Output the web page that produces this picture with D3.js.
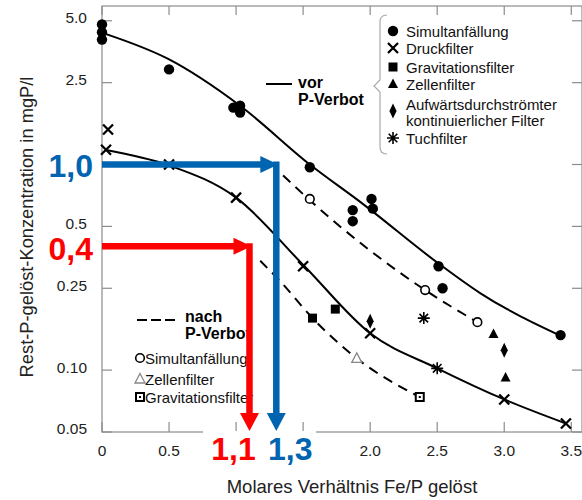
<!DOCTYPE html>
<html>
<head>
<meta charset="utf-8">
<script src="https://cdn.jsdelivr.net/npm/d3@7"></script>
<style>
  body { margin: 0; background: #fff; }
  svg { display: block; font-family: "Liberation Sans", Arial, sans-serif; }
</style>
</head>
<body>
<div id="chart"></div>
<script>
// values (x = molar ratio Fe/P, y = mg P/l)
const xTicks = [0, 0.5, 1.0, 1.5, 2.0, 2.5, 3.0, 3.5];
// 1.0 and 1.5 are covered by the big "1,1" / "1,3" labels in the figure
const xTickLabels = ["0", "0.5", "", "", "2.0", "2.5", "3.0", "3.5"];
const yTicks = [0.05, 0.10, 0.25, 0.5, 1.0, 2.5, 5.0];
// 1.0 is covered by the big "1,0"
const yTickLabels = ["0.05", "0.10", "0.25", "0.5", "", "2.5", "5.0"];

// vor P-Verbot
const simVor = [[0, 4.8], [0, 4.4], [0, 4.05], [0.5, 2.9], [0.98, 1.89], [1.03, 1.93], [1.03, 1.79],
  [1.55, 0.97], [1.87, 0.60], [1.87, 0.53], [2.01, 0.68], [2.02, 0.61], [2.51, 0.32], [2.54, 0.25], [3.42, 0.148]];
const druck = [[0.045, 1.48], [0.03, 1.18], [0.5, 1.0], [1.0, 0.69], [1.5, 0.32], [2.0, 0.151], [3.0, 0.072], [3.46, 0.055]];
const gravVor = [[1.57, 0.179], [1.74, 0.198]];
const zellenVor = [[2.92, 0.15], [3.01, 0.092]];
const aufwaerts = [[2.0, 0.173], [3.0, 0.125]];
const tuch = [[2.4, 0.179], [2.5, 0.102]];

// nach P-Verbot
const simNach = [[1.55, 0.68], [2.41, 0.245], [2.8, 0.171]];
const zellenNach = [[1.9, 0.114]];
const gravNach = [[2.37, 0.074]];

// fitted curves
const curveVorTop = [[0.02, 4.33], [0.49, 3.27], [1.03, 1.93], [1.55, 1.0], [1.95, 0.64], [2.51, 0.33], [2.82, 0.237], [3.43, 0.146]];
const curveVorLow = [[0.02, 1.18], [0.5, 0.99], [1.0, 0.69], [1.51, 0.32], [2.0, 0.151], [2.5, 0.102], [3.0, 0.072], [3.46, 0.055]];
const curveNachTop = [[1.35, 0.885], [1.55, 0.67], [2.41, 0.245], [2.8, 0.171]];
const curveNachLow = [[1.18, 0.34], [1.33, 0.27], [1.57, 0.179], [1.9, 0.114], [2.37, 0.074]];

// highlighted readings
const blueRead = { y: 1.0, x: 1.3 };
const redRead = { y: 0.4, x: 1.1 };

const legendVor = ["Simultanfällung", "Druckfilter", "Gravitationsfilter", "Zellenfilter", "Aufwärtsdurchströmter", "kontinuierlicher Filter", "Tuchfilter"];
const legendNach = ["Simultanfällung", "Zellenfilter", "Gravitationsfilter"];

const width = 582, height = 500;
const BLUE = "#0064b0", RED = "#ff0000", FRAME = "#8c8c8c";

const svg = d3.select("#chart").append("svg")
  .attr("width", width).attr("height", height);

const x = d3.scaleLinear().domain([0, 3.58]).range([102, 582]);
const y = d3.scaleLog().domain([0.05, 5.9]).range([432, 6]);

// frame with inward ticks on all sides
const frame = svg.append("g").attr("stroke", FRAME).attr("stroke-width", 1.2).attr("fill", "none");
frame.append("rect").attr("x", x(0)).attr("y", y(5.9)).attr("width", x(3.58) - x(0)).attr("height", y(0.05) - y(5.9));
xTicks.forEach((t) => {
  frame.append("line").attr("x1", x(t)).attr("x2", x(t)).attr("y1", y(0.05)).attr("y2", y(0.05) - 10);
  frame.append("line").attr("x1", x(t)).attr("x2", x(t)).attr("y1", y(5.9)).attr("y2", y(5.9) + 9);
});
yTicks.forEach((t) => {
  frame.append("line").attr("x1", x(0)).attr("x2", x(0) + 10).attr("y1", y(t)).attr("y2", y(t));
  frame.append("line").attr("x1", x(3.58)).attr("x2", x(3.58) - 10).attr("y1", y(t)).attr("y2", y(t));
});

// tick labels
svg.append("g").selectAll("text").data(xTicks.filter((d, i) => xTickLabels[i])).join("text")
  .attr("x", (d) => x(d)).attr("y", 456)
  .attr("text-anchor", "middle").attr("font-size", 15.5).attr("fill", "#222")
  .text((d) => xTickLabels[xTicks.indexOf(d)]);
svg.append("g").selectAll("text").data(yTicks.filter((d, i) => yTickLabels[i])).join("text")
  .attr("x", 87).attr("y", (d) => y(d) - 3).attr("dy", "0.35em")
  .attr("text-anchor", "end").attr("font-size", 15.5).attr("fill", "#222")
  .text((d) => yTickLabels[yTicks.indexOf(d)]);

// axis titles
svg.append("text").attr("x", 352).attr("y", 493).attr("text-anchor", "middle")
  .attr("font-size", 18.5).attr("fill", "#222").text("Molares Verhältnis Fe/P gelöst");
svg.append("text").attr("transform", "translate(33,227) rotate(-90)").attr("text-anchor", "middle")
  .attr("font-size", 18.3).attr("fill", "#222").text("Rest-P-gelöst-Konzentration in mgP/l");

// curves
const line = d3.line().x((d) => x(d[0])).y((d) => y(d[1])).curve(d3.curveMonotoneX);
const curves = svg.append("g").attr("fill", "none").attr("stroke", "#000").attr("stroke-width", 2);
curves.append("path").attr("d", line(curveVorTop));
curves.append("path").attr("d", line(curveVorLow));
curves.append("path").attr("d", line(curveNachTop)).attr("stroke-dasharray", "10,7");
curves.append("path").attr("d", line(curveNachLow)).attr("stroke-dasharray", "10,7");

// marker shapes
const drawMarker = (g, type, cx, cy) => {
  const m = g.append("g").attr("transform", `translate(${cx},${cy})`);
  if (type === "circle") m.append("circle").attr("r", 5.2).attr("fill", "#000");
  if (type === "x") m.append("path").attr("d", "M-5,-5L5,5M-5,5L5,-5").attr("stroke", "#000").attr("stroke-width", 2.3);
  if (type === "square") m.append("rect").attr("x", -4.5).attr("y", -4.5).attr("width", 9).attr("height", 9).attr("fill", "#000");
  if (type === "triangle") m.append("path").attr("d", "M0,-5.5L5,4L-5,4Z").attr("fill", "#000");
  if (type === "diamond") m.append("path").attr("d", "M0,-7.5L3.6,0L0,7.5L-3.6,0Z").attr("fill", "#000");
  if (type === "star") m.append("path").attr("d", "M0,-6V6M-6,0H6M-4.3,-4.3L4.3,4.3M-4.3,4.3L4.3,-4.3").attr("stroke", "#000").attr("stroke-width", 1.6);
  if (type === "ocircle") m.append("circle").attr("r", 4.3).attr("fill", "#fff").attr("stroke", "#000").attr("stroke-width", 1.6);
  if (type === "otriangle") m.append("path").attr("d", "M0,-5.5L5,4L-5,4Z").attr("fill", "#fff").attr("stroke", "#888").attr("stroke-width", 1.3);
  if (type === "osquare") {
    m.append("rect").attr("x", -4).attr("y", -4).attr("width", 8).attr("height", 8).attr("fill", "#fff").attr("stroke", "#000").attr("stroke-width", 2);
    m.append("rect").attr("x", -1).attr("y", -1).attr("width", 2).attr("height", 2).attr("fill", "#000");
  }
};

const marks = svg.append("g");
const series = [
  [simVor, "circle"], [druck, "x"], [gravVor, "square"], [zellenVor, "triangle"],
  [aufwaerts, "diamond"], [tuch, "star"], [simNach, "ocircle"], [zellenNach, "otriangle"], [gravNach, "osquare"],
];
series.forEach(([data, type]) => data.forEach((d) => drawMarker(marks, type, x(d[0]), y(d[1]))));

// upper legend with bracket
const leg = svg.append("g");
leg.append("path").attr("d", "M387,15 Q380,15 380,22 V80 L374,86 L380,92 V147 Q380,154 387,154")
  .attr("fill", "none").attr("stroke", "#aaa").attr("stroke-width", 1.2);
const legRows = [31, 48, 67, 84, 104, 120, 138];
const legMarks = ["circle", "x", "square", "triangle", "diamond", null, "star"];
legendVor.forEach((t, i) => {
  leg.append("text").attr("x", 406).attr("y", legRows[i] + 5.5).attr("font-size", 15).attr("fill", "#111").text(t);
  if (legMarks[i]) drawMarker(leg, legMarks[i], 393, legMarks[i] === "diamond" ? 111 : legRows[i]);
});

// vor / nach line keys
svg.append("line").attr("x1", 266).attr("x2", 292).attr("y1", 84).attr("y2", 84).attr("stroke", "#000").attr("stroke-width", 2);
svg.append("text").attr("x", 298).attr("y", 88).attr("font-size", 16).attr("font-weight", "bold").text("vor");
svg.append("text").attr("x", 298).attr("y", 105).attr("font-size", 16).attr("font-weight", "bold").text("P-Verbot");
svg.append("line").attr("x1", 137).attr("x2", 175).attr("y1", 320).attr("y2", 320)
  .attr("stroke", "#000").attr("stroke-width", 2).attr("stroke-dasharray", "10,4");
svg.append("text").attr("x", 185).attr("y", 322).attr("font-size", 16).attr("font-weight", "bold").text("nach");
svg.append("text").attr("x", 185).attr("y", 339).attr("font-size", 16).attr("font-weight", "bold").text("P-Verbot");
const nachRows = [358, 379, 397];
const nachMarks = ["ocircle", "otriangle", "osquare"];
legendNach.forEach((t, i) => {
  svg.append("text").attr("x", 145).attr("y", nachRows[i] + 5.5).attr("font-size", 15).attr("fill", "#111").text(t);
  drawMarker(svg, nachMarks[i], 140, nachRows[i]);
});

// reading arrows
const arrow = (read, color) => {
  const g = svg.append("g");
  const yy = y(read.y), xx = x(read.x);
  g.append("line").attr("x1", x(0)).attr("x2", xx - 14).attr("y1", yy).attr("y2", yy).attr("stroke", color).attr("stroke-width", 6.5);
  g.append("path").attr("d", `M${xx - 16},${yy - 8.5}L${xx + 2},${yy}L${xx - 16},${yy + 8.5}Z`).attr("fill", color);
  g.append("line").attr("x1", xx).attr("x2", xx).attr("y1", yy - 3).attr("y2", 414).attr("stroke", color).attr("stroke-width", 6.5);
  g.append("path").attr("d", `M${xx - 9.5},413L${xx},431L${xx + 9.5},413Z`).attr("fill", color);
};

// white patch under the big x reading labels (hides the axis line there)
svg.append("rect").attr("x", 203).attr("y", 431).attr("width", 113).attr("height", 36).attr("fill", "#fff");
arrow(blueRead, BLUE);
arrow(redRead, RED);

const big = (txt, cx, cy, anchor, color) => svg.append("text").attr("x", cx).attr("y", cy)
  .attr("text-anchor", anchor).attr("font-size", 32).attr("font-weight", "bold").attr("fill", color).text(txt);
big("1,0", 93, y(blueRead.y) + 13, "end", BLUE);
big("0,4", 93, y(redRead.y) + 14, "end", RED);
big("1,1", x(redRead.x) - 16, 460, "middle", RED);
big("1,3", x(blueRead.x) + 14, 460, "middle", BLUE);
</script>
</body>
</html>
